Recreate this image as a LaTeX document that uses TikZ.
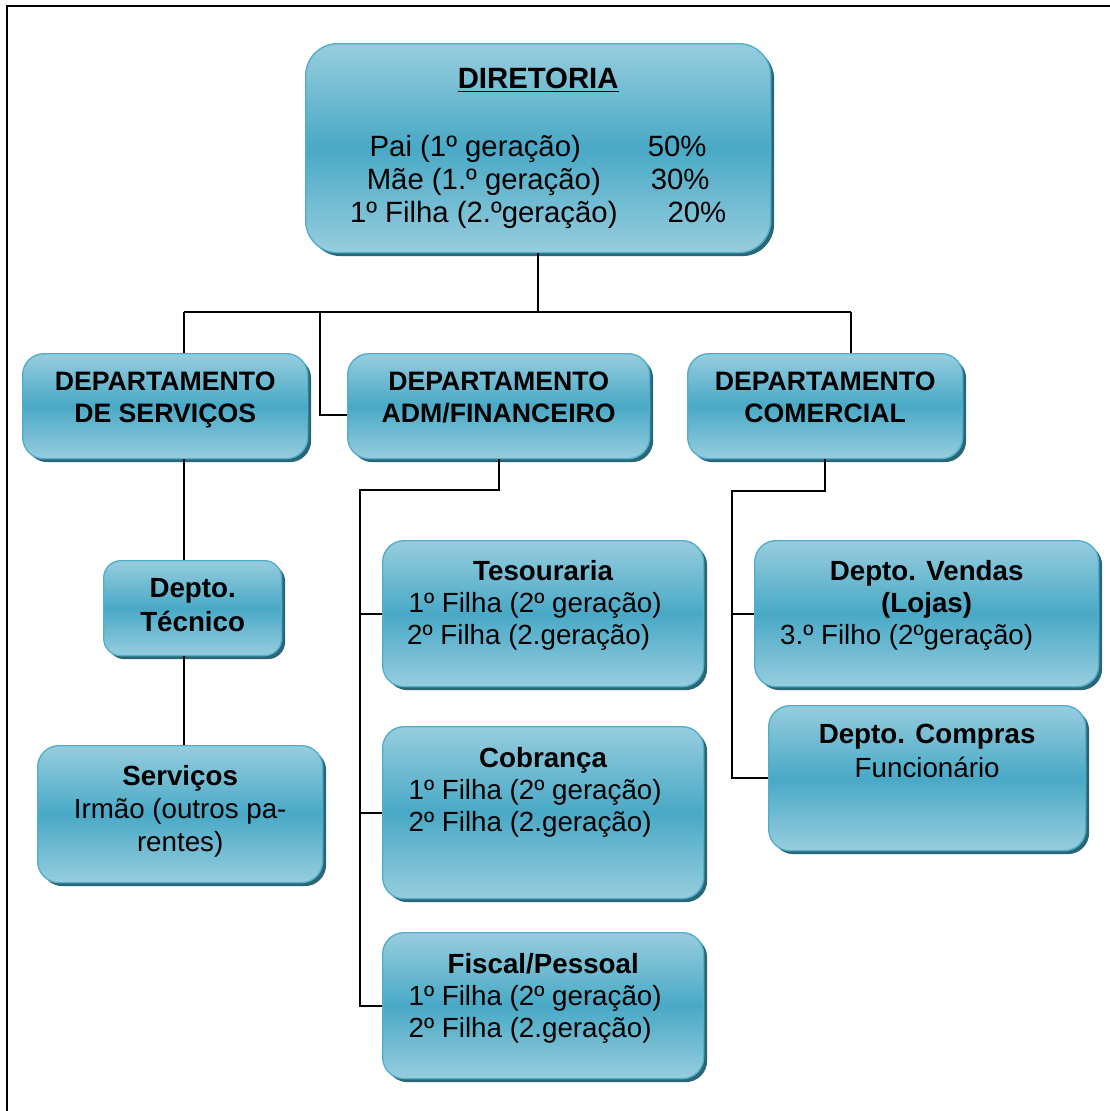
\documentclass[tikz,border=0pt]{standalone}
\usepackage{fontspec}
\setmainfont{Liberation Sans}
\usetikzlibrary{shadows,calc}
\newlength\px \setlength\px{0.75pt}
\definecolor{lt}{HTML}{97CDDE}
\definecolor{md}{HTML}{49A9C6}
\definecolor{bd}{HTML}{4FAECA}
\definecolor{sh}{HTML}{2B6677}
\newcommand\bx[6][20.8]{\begin{minipage}[t][#3\px][t]{#2\px}\centering\fontsize{#1}{#4}\selectfont\rule{0pt}{#5\px}#6\end{minipage}}
\newcommand\tr[1]{\rule{#1\px}{0pt}}
\tikzset{
  box/.style={anchor=north west, inner sep=0pt, rounded corners=16pt, draw=bd, line width=1pt,
    top color=lt, bottom color=lt, middle color=md,
    drop shadow={shadow xshift=2.6pt, shadow yshift=-2.6pt, fill=sh, opacity=1}},
  wire/.style={line width=1.5pt, black},
  frame/.style={line width=1.6pt, black}
}
\begin{document}
\begin{tikzpicture}[x=0.75pt, y=-0.75pt]
\useasboundingbox (0,0) rectangle (1110,1111);
\draw[frame] (7,1111) -- (7,6) -- (1110,6);

% boxes
\node[box, rounded corners=24pt] (dir) at (305,43) {\bx[22]{465}{209}{25pt}{45}{\textbf{\underline{DIRETORIA}}\\[34\px]
  Pai (1º geração)\hspace{67\px}50\%\\
  Mãe (1.º geração)\hspace{50\px}30\%\\
  1º Filha (2.ºgeração)\hspace{50\px}20\%}};
\node[box] (dserv) at (22,353) {\bx[20]{285}{105}{24pt}{37}{\textbf{DEPARTAMENTO\\DE SERVIÇOS}}};
\node[box] (dadm) at (347,353) {\bx[20]{302}{105}{24pt}{37}{\textbf{DEPARTAMENTO\\ADM/FINANCEIRO}}};
\node[box] (dcom) at (687,353) {\bx[20]{275}{105}{24pt}{37}{\textbf{DEPARTAMENTO\\COMERCIAL}}};
\node[box, rounded corners=13pt] (tec) at (103,560) {\bx{178}{95}{25pt}{37}{\textbf{Depto.\\Técnico}}};
\node[box] (srv) at (37,745) {\bx{285}{137}{24.5pt}{40}{\textbf{Serviços}\\Irmão (outros pa-\\rentes)}};
\node[box] (tes) at (382,540) {\bx{321}{146}{24pt}{40}{\textbf{Tesouraria}\\1º Filha (2º geração)\tr{16}\\2º Filha (2.geração)\tr{29}}};
\node[box] (cob) at (382,726) {\bx{321}{172}{24pt}{41}{\textbf{Cobrança}\\1º Filha (2º geração)\tr{16}\\2º Filha (2.geração)\tr{26}}};
\node[box] (fis) at (382,932) {\bx{321}{146}{24pt}{41}{\textbf{Fiscal/Pessoal}\\1º Filha (2º geração)\tr{16}\\2º Filha (2.geração)\tr{26}}};
\node[box] (ven) at (754,540) {\bx{344}{146}{24pt}{40}{\textbf{Depto. Vendas\\(Lojas)}\\3.º Filho (2ºgeração)\tr{40}}};
\node[box] (com) at (768,705) {\bx{317}{145}{25.5pt}{38}{\textbf{Depto. Compras}\\Funcionário}};

% junction coordinates
\coordinate (bL) at (184,312);
\coordinate (bA) at (320,312);
\coordinate (bR) at (851,312);
\coordinate (aT) at (360,490);
\coordinate (cT) at (732,491);

% connectors
\draw[wire] (dir.south) -- (dir.south |- bL);
\draw[wire] (bL) -- (bR);
\draw[wire] (bL) -- (bL |- dserv.north);
\draw[wire] (bR) -- (bR |- dcom.north);
\draw[wire] (bA) |- ($(dadm.west)+(0,9)$);
\draw[wire] (bL |- dserv.south) -- (bL |- tec.north);
\draw[wire] (bL |- tec.south) -- (bL |- srv.north);
\draw[wire] (dadm.south) |- (aT) -- (aT |- fis.west) -- (fis.west);
\draw[wire] (aT |- tes.west) -- (tes.west);
\draw[wire] (aT |- cob.west) -- (cob.west);
\draw[wire] (dcom.south) |- (cT) -- (cT |- com.west) -- (com.west);
\draw[wire] (cT |- ven.west) -- (ven.west);
\end{tikzpicture}
\end{document}
